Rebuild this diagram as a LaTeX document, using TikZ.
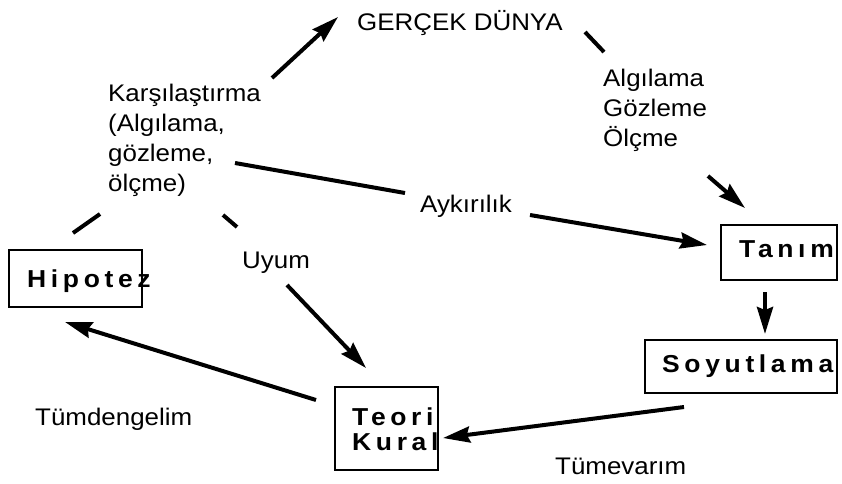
\documentclass[tikz,border=0pt]{standalone}
\usepackage{fontspec}
\setmainfont{Liberation Sans}[FakeStretch=1.08]
\usetikzlibrary{arrows.meta}
\begin{document}
\begin{tikzpicture}[x=1pt,y=-1pt,
  lbl/.style={font=\fontsize{24}{30}\selectfont, inner sep=0pt, align=left},
  boxframe/.style={draw, line width=2.5pt, inner sep=0pt},
  boxtext/.style={font=\fontsize{24.5}{25}\selectfont\bfseries\addfontfeature{LetterSpace=19}, inner sep=0pt, align=left},
  conn/.style={line width=4pt},
  arr/.style={line width=4pt, -{Stealth[length=27pt,width=16pt,inset=3pt]}}]
\useasboundingbox (0,0) rectangle (842,483);

% boxes
\node[boxframe, minimum width=133pt, minimum height=57pt] (hip) at (75.5,278.5) {};
\node[boxframe, minimum width=116pt, minimum height=55pt] (tan) at (779,252.5) {};
\node[boxframe, minimum width=192pt, minimum height=53pt] (soy) at (741,366.5) {};
\node[boxframe, minimum width=103pt, minimum height=83pt] (teo) at (386.5,428.5) {};

\node[boxtext, anchor=base west] (hipT) at (27,287) {Hipotez};
\node[boxtext, anchor=base west] (tanT) at (739,257) {Tanım};
\node[boxtext, anchor=base west] (soyT) at (662,372) {Soyutlama};
\node[boxtext, anchor=north west] (teoT) at (352,408) {Teori\\Kural};

% labels
\node[lbl, anchor=base west] (ger) at (357,30) {GERÇEK DÜNYA};
\node[lbl, anchor=north west] (kar) at (108,84) {Karşılaştırma\\(Algılama,\\gözleme,\\ölçme)};
\node[lbl, anchor=north west] (alg) at (603,69) {Algılama\\Gözleme\\Ölçme};
\node[lbl, anchor=base west] (ayk) at (420,212) {Aykırılık};
\node[lbl, anchor=base west] (uyu) at (242,268) {Uyum};
\node[lbl, anchor=base west] (tdg) at (35,425) {Tümdengelim};
\node[lbl, anchor=base west] (tmv) at (555,474) {Tümevarım};

% connector end points
\coordinate (k1) at (272,78);   \coordinate (g1) at (338,17);
\coordinate (g2) at (585,32);   \coordinate (a1) at (604,52);
\coordinate (a2) at (708,176);  \coordinate (t1) at (745,208);
\coordinate (t2) at (765,292);  \coordinate (s1) at (765,334);
\coordinate (s2) at (684,407);  \coordinate (r1) at (443,438);
\coordinate (r2) at (316,400);  \coordinate (h1) at (65,322);
\coordinate (k2) at (100,214);  \coordinate (h2) at (73,233);
\coordinate (k3) at (223,215);  \coordinate (u1) at (237,227);
\coordinate (u2) at (287,285);  \coordinate (r3) at (366,368);
\coordinate (k4) at (235,163);  \coordinate (y1) at (405,193);
\coordinate (y2) at (530,215);  \coordinate (t3) at (707,245);

\draw[arr] (k1) -- (g1);
\draw[conn] (g2) -- (a1);
\draw[arr] (a2) -- (t1);
\draw[arr] (t2) -- (s1);
\draw[arr] (s2) -- (r1);
\draw[arr] (r2) -- (h1);
\draw[conn] (k2) -- (h2);
\draw[conn] (k3) -- (u1);
\draw[arr] (u2) -- (r3);
\draw[conn] (k4) -- (y1);
\draw[arr] (y2) -- (t3);
\end{tikzpicture}
\end{document}
